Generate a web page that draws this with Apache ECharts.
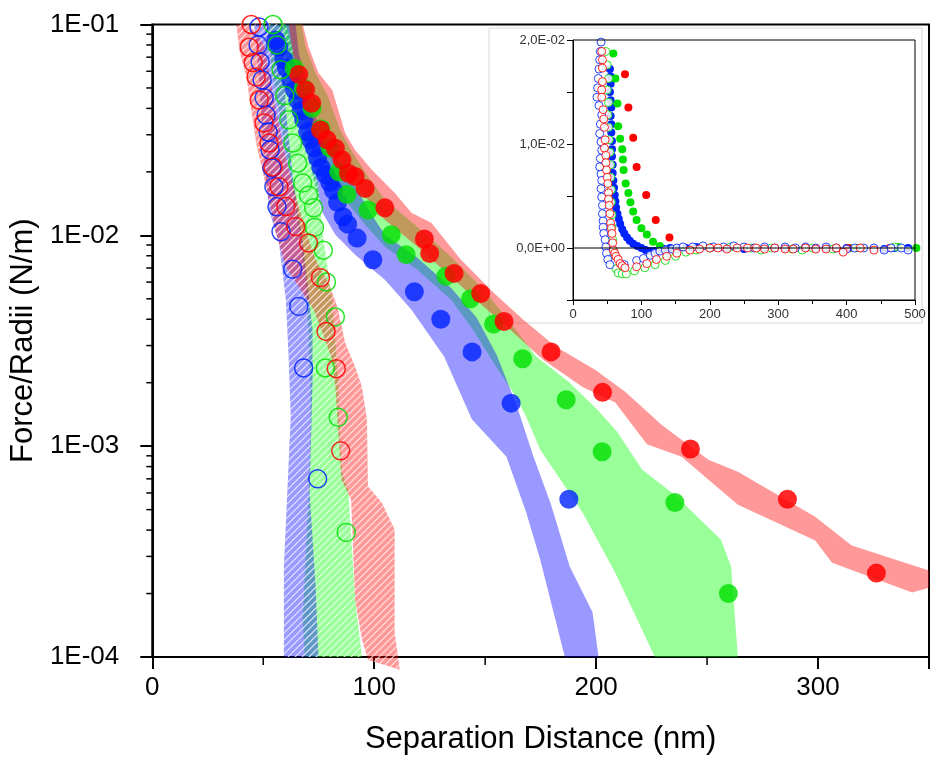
<!DOCTYPE html>
<html><head><meta charset="utf-8">
<script src="https://cdn.jsdelivr.net/npm/echarts@6/dist/echarts.min.js"></script>
<style>html,body{margin:0;padding:0;background:#fff}#c{width:932px;height:761px}</style>
</head><body><div id="c"></div>
<script>
// ---------- main plot: points (x nm, Force/Radii N/m) ----------
const redFilled = [[66,0.058],[69.1,0.049],[71.8,0.0423],[75.8,0.0316],[78.8,0.0284],[82.5,0.0259],[85.5,0.0228],[88.4,0.0197],[91.4,0.019],[95.9,0.0167],[104.8,0.0135],[122.6,0.0096],[125,0.0082],[136,0.0066],[148,0.0053],[158.5,0.0039],[179.7,0.0028],[202.9,0.0018],[242.5,0.00097],[286.2,0.00056],[326.3,0.00025]];
const greenFilled = [[64,0.062],[68,0.05],[72,0.04],[76,0.032],[80,0.026],[84,0.02],[87.7,0.0156],[97.3,0.0132],[107.7,0.01006],[114.4,0.0081],[132.3,0.0064],[143.4,0.0050],[153.8,0.0038],[166.9,0.0026],[186.5,0.00166],[202.7,0.00094],[235.5,0.00054],[259.6,0.0002]];
const blueFilled = [[55.7,0.0845],[57,0.078],[59.3,0.068],[60.5,0.062],[62.4,0.0546],[64,0.049],[65.5,0.0438],[67,0.039],[68.2,0.0353],[70,0.031],[71.3,0.0284],[73,0.026],[74.5,0.0233],[76,0.021],[78,0.0194],[80,0.0178],[81.6,0.0164],[83.5,0.0143],[86,0.01225],[88,0.0113],[92.3,0.0097],[99.4,0.00766],[118.1,0.0054],[130,0.0040],[144.1,0.0028],[161.7,0.0016],[187.7,0.00056]];
const redOpen = [[44.6,0.1],[43.7,0.078],[45.5,0.066],[46.8,0.0564],[48.2,0.0438],[50.4,0.0341],[52.6,0.0274],[54.4,0.0211],[57.1,0.017],[60.2,0.0137],[64.6,0.011],[70.4,0.0092],[75.8,0.0063],[78.3,0.0035],[82.9,0.00233],[84.9,0.00095]];
const greenOpen = [[54.4,0.1],[56.2,0.08],[58,0.061],[59.7,0.046],[61.5,0.0353],[63.3,0.0274],[65.5,0.022],[67.8,0.0177],[70.4,0.0155],[72.7,0.0135],[73.1,0.0109],[77.1,0.0085],[78.5,0.006],[82.5,0.0041],[78,0.00235],[83.8,0.00137],[87.4,0.00039]];
const blueOpen = [[48.1,0.0973],[47.7,0.080],[48.6,0.0664],[49.5,0.0546],[50.4,0.0449],[51.3,0.0372],[52.2,0.0309],[53.1,0.0254],[53.9,0.0209],[54.8,0.017],[56.2,0.01365],[58,0.0104],[63.3,0.0069],[66,0.0046],[68.2,0.00235],[74.5,0.0007]];

// ---------- main plot: shaded bands (outline vertices, x nm / N/m) ----------
const redBand = [[61.5,0.1],[67.8,0.1],[70.4,0.0782],[74.9,0.0589],[81.1,0.0489],[86.9,0.0306],[91.4,0.0254],[99.0,0.0204],[109.2,0.0159],[116.8,0.0128],[125.7,0.01146],[139.1,0.00766],[153.8,0.00534],[167.2,0.00398],[181.9,0.00296],[199.7,0.0023],[213.1,0.00181],[229.6,0.00126],[250.6,0.000863],[263.9,0.000757],[298.7,0.000463],[315.2,0.000338],[350,0.000257],
  [350,0.000213],[342.4,0.000202],[306.3,0.00028],[298.7,0.000357],[263.9,0.000528],[238.5,0.000892],[222.9,0.00102],[208.6,0.00161],[193.9,0.00191],[176.1,0.00257],[161.4,0.00356],[149.4,0.00458],[134.6,0.00636],[119.5,0.00882],[104.8,0.01184],[97.2,0.01473],[91.4,0.01698],[83.8,0.0211],[76.7,0.0263],[70.4,0.0353],[66.0,0.0506],[63.3,0.0733]];
const greenBand = [[61.5,0.1],[67.3,0.1],[69.1,0.0782],[73.6,0.0589],[78.9,0.0463],[84.7,0.0316],[90.1,0.0249],[96.7,0.0194],[104.8,0.01473],[119.5,0.01097],[134.6,0.00791],[149.4,0.00552],[161.4,0.00385],[173.0,0.00266],[188.1,0.002],[200.6,0.00149],[209.5,0.00117],[220.7,0.000774],[235.4,0.000589],[256.3,0.00036],[260.8,0.000269],[263.9,0.0001],
  [226.5,0.0001],[208.6,0.000251],[193.9,0.000484],[174.8,0.000962],[168.5,0.00138],[162.7,0.00179],[153.8,0.00249],[143.6,0.00368],[134.6,0.00495],[119.5,0.00686],[104.8,0.00882],[95.9,0.01122],[86.9,0.01473],[78.0,0.0204],[71.3,0.0284],[65.5,0.0438],[62.0,0.0679],[59.3,0.1]];
const blueBand = [[64.6,0.1],[66.0,0.0733],[69.1,0.0546],[72.7,0.0381],[76.7,0.0306],[81.1,0.0246],[86.9,0.0204],[92.3,0.01643],[98.1,0.01292],[104.8,0.01006],[119.5,0.00782],[134.6,0.00564],[146.2,0.00406],[155.2,0.00271],[164.1,0.00157],[171.6,0.000902],[179.7,0.000528],[188.1,0.000269],[198.4,0.000163],[201.1,0.0001],
  [185.9,0.0001],[174.8,0.00029],[168.5,0.000484],[159.6,0.000892],[144.0,0.00134],[131.5,0.00266],[116.8,0.00444],[104.8,0.00615],[91.4,0.00809],[82.5,0.01006],[76.7,0.0128],[73.6,0.01698],[70.4,0.0228],[67.8,0.0293],[63.3,0.0425],[61.1,0.0608],[58.9,0.0942],[58.0,0.1]];
const redHatch = [[43.7,0.1],[50.4,0.08],[54.8,0.0438],[59.3,0.0254],[63.8,0.01643],[69.1,0.01062],[73.6,0.00766],[79.4,0.00596],[83.4,0.00458],[86.9,0.00309],[91.4,0.00238],[94.5,0.00191],[96.7,0.00134],[97.2,0.000643],[103.4,0.00054],[109.2,0.000402],[109.2,0.000131],[111.5,0.000087],
  [97.2,0.000097],[94.5,0.000121],[91.4,0.000187],[89.6,0.000558],[85.2,0.000694],[82.5,0.00191],[81.1,0.00257],[76.7,0.00345],[72.7,0.00444],[67.8,0.00534],[60.2,0.0071],[55.7,0.01028],[52.6,0.01473],[46.8,0.0274],[44.6,0.0393],[42.4,0.0564],[39.2,0.0757],[37.9,0.1]];
const greenHatch = [[60.2,0.1],[63.3,0.0757],[64.6,0.0506],[67.8,0.0353],[72.2,0.0246],[74.9,0.01698],[76.7,0.01028],[78.9,0.0071],[81.1,0.00495],[82.5,0.0032],[83.8,0.002],[84.7,0.00107],[85.6,0.000749],[88.3,0.000622],[91.4,0.000187],[94.5,0.0001],
  [68.7,0.0001],[67.8,0.000151],[69.1,0.00029],[70.4,0.000558],[71.3,0.00116],[71.3,0.00166],[70.4,0.00345],[69.1,0.00615],[66.0,0.01062],[63.3,0.01643],[60.2,0.0254],[57.1,0.0393],[53.9,0.0608],[52.2,0.1]];
const blueHatch = [[58.9,0.1],[58.9,0.0817],[60.2,0.0393],[63.3,0.0189],[67.8,0.0092],[70.4,0.00534],[72.2,0.00356],[72.2,0.002],[70.9,0.000602],[73.6,0.000216],[74.9,0.0001],
  [59.3,0.0001],[59.3,0.000269],[61.1,0.000694],[62.4,0.00138],[61.5,0.00257],[60.2,0.00495],[57.1,0.0092],[52.6,0.0132],[49.9,0.0274],[48.1,0.0564],[45.9,0.1]];

// ---------- axes ----------
const yMinorTicks = [2e-4,3e-4,4e-4,5e-4,6e-4,7e-4,8e-4,9e-4,2e-3,3e-3,4e-3,5e-3,6e-3,7e-3,8e-3,9e-3,2e-2,3e-2,4e-2,5e-2,6e-2,7e-2,8e-2,9e-2];
const xMinorTicks = [50,150,250];
const yTickLabels = {'-4':'1E-04','-3':'1E-03','-2':'1E-02','-1':'1E-01'};
const insetYLabels = {'0':'0,0E+00','1':'1,0E-02','2':'2,0E-02'};

// ---------- inset (x nm / force) ----------
const insetRedFilled = [[76,0.0167],[81,0.0135],[88,0.0106],[93,0.0078],[107,0.0051],[121,0.0027],[141,0.0010],[403,0.0000],[463,0.0000]];
const insetGreenFilled = [[59,0.0187],[62,0.0163],[65,0.0139],[66,0.0117],[69,0.0105],[72,0.0095],[73,0.0085],[74,0.0075],[77,0.0062],[81,0.0053],[84,0.0044],[88,0.0035],[93,0.0027],[100,0.0019],[108,0.0013],[117,0.0006],[127,0.0002],[405,0.0000],[415,0.0000],[476,0.0001],[502,0.0000]];
const insetBlueFilled = [[54,0.0172],[55,0.0165],[55,0.0158],[54,0.0150],[55,0.0142],[56,0.0135],[55,0.0127],[56,0.0119],[56,0.0111],[57,0.0103],[57,0.0095],[57,0.0088],[58,0.0080],[58,0.0072],[59,0.0065],[60,0.0058],[61,0.0051],[62,0.0045],[63,0.0039],[65,0.0033],[67,0.0028],[69,0.0023],[72,0.0018],[75,0.0014],[79,0.0010],[83,0.0007],[88,0.0004],[94,0.0002],[100,0.0000],[106,-0.0002],[112,-0.0003],[118,-0.0003],[125,-0.0002],[133,-0.0001],[142,0.0000],[152,-0.0001],[165,0.0000],[180,0.0001],[200,0.0000],[225,0.0000],[250,-0.0001],[280,0.0000],[310,0.0000],[340,0.0000],[370,0.0000],[400,0.0000],[420,0.0000],[455,-0.0001],[470,0.0000],[490,0.0000]];
const insetRedOpen = [[42,0.0189],[43,0.0181],[43,0.0173],[43,0.0160],[42,0.0152],[42,0.0145],[44,0.0133],[45,0.0124],[46,0.0116],[47,0.0104],[46,0.0096],[48,0.0089],[48,0.0082],[49,0.0075],[50,0.0068],[51,0.0062],[52,0.0053],[52,0.0047],[53,0.0041],[54,0.0033],[55,0.0024],[56,0.0019],[57,0.0014],[58,0.0005],[59,-0.0002],[61,-0.0005],[63,-0.0008],[66,-0.0011],[69,-0.0015],[72,-0.0017],[76,-0.0019],[93,-0.0018],[108,-0.0015],[122,-0.0011],[137,-0.0008],[152,-0.0005],[171,-0.0002],[185,-0.0001],[200,0.0000],[212,0.0000],[225,-0.0001],[240,0.0000],[255,0.0000],[268,0.0000],[280,-0.0001],[295,0.0000],[310,-0.0001],[322,-0.0001],[340,0.0000],[355,-0.0001],[370,-0.0001],[385,0.0000],[395,-0.0004],[420,0.0000],[440,-0.0002]];
const insetGreenOpen = [[48,0.0189],[50,0.0176],[52,0.0163],[50,0.0152],[52,0.0140],[51,0.0128],[52,0.0116],[53,0.0104],[54,0.0092],[55,0.0080],[55,0.0068],[56,0.0056],[56,0.0044],[57,0.0032],[57,0.0020],[58,0.0008],[59,-0.0004],[61,-0.0013],[63,-0.0020],[66,-0.0024],[72,-0.0025],[78,-0.0025],[90,-0.0022],[105,-0.0019],[120,-0.0016],[135,-0.0012],[150,-0.0008],[165,-0.0004],[180,-0.0002],[200,0.0000],[230,0.0001],[260,0.0000],[275,-0.0002],[290,0.0000],[320,-0.0001],[335,-0.0002],[350,0.0000],[380,-0.0001],[470,0.0001]];
const insetBlueOpen = [[41,0.0198],[40,0.0189],[39,0.0181],[38,0.0172],[37,0.0163],[36,0.0154],[35,0.0145],[38,0.0137],[42,0.0128],[40,0.0119],[39,0.0110],[41,0.0102],[42,0.0094],[40,0.0086],[39,0.0078],[41,0.0071],[42,0.0065],[41,0.0057],[42,0.0049],[43,0.0041],[43,0.0033],[44,0.0026],[44,0.0020],[45,0.0014],[47,0.0008],[48,0.0001],[49,-0.0005],[51,-0.0011],[54,-0.0016],[75,-0.0016],[93,-0.0012],[103,-0.0010],[113,-0.0007],[120,-0.0005],[127,-0.0003],[135,-0.0002],[145,-0.0001],[152,0.0000],[161,0.0001],[175,0.0001],[190,0.0002],[205,0.0001],[220,0.0001],[235,0.0002],[250,0.0001],[265,0.0000],[280,0.0001],[295,0.0000],[310,0.0001],[325,0.0000],[340,0.0001],[355,0.0000],[370,0.0001],[385,0.0000],[400,-0.0001],[412,0.0000],[425,0.0000],[440,0.0000],[455,-0.0002],[465,0.0000],[480,0.0000],[490,-0.0002]];

const RED = '#ff0000', GREEN = '#00e000', BLUE = '#0022ff';
const FONT = 'Liberation Sans, Arial, sans-serif';

function makeHatch() {
  const c = document.createElement('canvas');
  c.width = 7; c.height = 7;
  const g = c.getContext('2d');
  g.strokeStyle = 'rgba(255,255,255,0.75)';
  g.lineWidth = 1.2;
  g.beginPath();
  g.moveTo(-1, 8); g.lineTo(8, -1);
  g.moveTo(-1, 1); g.lineTo(1, -1);
  g.moveTo(6, 8); g.lineTo(8, 6);
  g.stroke();
  return c;
}
const hatchImg = makeHatch();

function band(pts, color, hatched) {
  return {
    type: 'custom', xAxisIndex: 0, yAxisIndex: 0, silent: true, z: 1,
    data: pts,
    renderItem: function (params, api) {
      if (params.dataIndex !== 0) return null;
      const points = pts.map(p => api.coord(p));
      const children = [{ type: 'polygon', shape: { points: points }, style: { fill: color } }];
      if (hatched) children.push({ type: 'polygon', shape: { points: points }, style: { fill: { type: 'pattern', image: hatchImg, repeat: 'repeat' } } });
      return { type: 'group', children: children };
    }
  };
}
function filled(data, color, size, xi, op) {
  return { type: 'scatter', xAxisIndex: xi, yAxisIndex: xi, data: data, symbol: 'circle', symbolSize: size, clip: false, z: 3,
    itemStyle: { color: color, opacity: op } };
}
function open(data, color, size, xi, fill, bw) {
  return { type: 'scatter', xAxisIndex: xi, yAxisIndex: xi, data: data, symbol: 'circle', symbolSize: size, clip: false, z: 4,
    itemStyle: { color: fill, borderColor: color, borderWidth: bw, opacity: 0.85 } };
}

const chart = echarts.init(document.getElementById('c'), null, { renderer: 'canvas' });
chart.setOption({
  animation: false,
  backgroundColor: '#fff',
  textStyle: { fontFamily: FONT },
  grid: [
    { left: 145, top: 24.5, width: 785, height: 632.5, show: true, borderColor: '#000', borderWidth: 2, backgroundColor: 'transparent' },
    { left: 573, top: 40, width: 342, height: 260, show: true, borderColor: '#000', borderWidth: 1, backgroundColor: 'transparent', z: 5 }
  ],
  xAxis: [
    { gridIndex: 0, type: 'value', min: 0, max: 350, interval: 100,
      axisLine: { onZero: false, lineStyle: { color: '#000', width: 2 } },
      axisTick: { length: 12, lineStyle: { color: '#000', width: 2 } },
      axisLabel: { fontSize: 26, color: '#000', margin: 18, fontFamily: FONT, formatter: v => (v % 100 === 0 ? String(v) : '') },
      splitLine: { show: false },
      name: 'Separation Distance (nm)', nameLocation: 'middle', nameGap: 67,
      nameTextStyle: { fontSize: 31, color: '#000', fontFamily: FONT } },
    { gridIndex: 1, type: 'value', min: 0, max: 500, interval: 100,
      axisLine: { onZero: false, lineStyle: { color: '#000', width: 1 } },
      axisTick: { length: 5, lineStyle: { color: '#000' } },
      minorTick: { show: true, splitNumber: 2, length: 4, lineStyle: { color: '#000' } },
      axisLabel: { fontSize: 13, color: '#333', margin: 8, fontFamily: FONT },
      splitLine: { show: false } }
  ],
  yAxis: [
    { gridIndex: 0, type: 'log', logBase: 10, min: 1e-4, max: 1e-1,
      axisLine: { onZero: false, lineStyle: { color: '#000', width: 2 } },
      axisTick: { length: 12, lineStyle: { color: '#000', width: 2 } },
      axisLabel: { fontSize: 26, color: '#000', margin: 33, fontFamily: FONT,
        formatter: v => yTickLabels[String(Math.round(Math.log10(v)))] || '' },
      splitLine: { show: false },
      name: 'Force/Radii (N/m)', nameLocation: 'middle', nameGap: 92, nameRotate: 90,
      nameTextStyle: { fontSize: 31, color: '#000', fontFamily: FONT } },
    { gridIndex: 1, type: 'value', min: -0.005, max: 0.02, interval: 0.005,
      axisLine: { onZero: false, lineStyle: { color: '#000', width: 1 } },
      axisTick: { length: 6, lineStyle: { color: '#000' } },
      axisLabel: { fontSize: 13, color: '#333', margin: 8, fontFamily: FONT,
        formatter: v => { const k = v / 0.01; return Math.abs(k - Math.round(k)) < 1e-6 && k > -0.5 ? insetYLabels[String(Math.round(k))] : ''; } },
      splitLine: { show: false } }
  ],
  graphic: [
    { type: 'rect', shape: { x: 489, y: 28, width: 433, height: 295 }, style: { fill: 'none', stroke: '#d8d8d8', lineWidth: 1 }, z: 0, silent: true }
  ],
  series: [
    band(greenBand, 'rgba(0,255,0,0.4)', false),
    band(blueBand, 'rgba(0,0,255,0.4)', false),
    band(redBand, 'rgba(255,0,0,0.4)', false),
    band(greenHatch, 'rgba(0,255,0,0.4)', true),
    band(blueHatch, 'rgba(0,0,255,0.4)', true),
    band(redHatch, 'rgba(255,0,0,0.4)', true),
    { type: 'custom', xAxisIndex: 0, yAxisIndex: 0, silent: true, z: 2,
      data: yMinorTicks.map(v => [0, v]),
      renderItem: (params, api) => { const p = api.coord([api.value(0), api.value(1)]);
        return { type: 'line', shape: { x1: p[0] - 6, y1: p[1], x2: p[0], y2: p[1] }, style: { stroke: '#000', lineWidth: 1.5 } }; } },
    { type: 'custom', xAxisIndex: 0, yAxisIndex: 0, silent: true, z: 2,
      data: xMinorTicks.map(v => [v, 1e-4]),
      renderItem: (params, api) => { const p = api.coord([api.value(0), api.value(1)]);
        return { type: 'line', shape: { x1: p[0], y1: p[1], x2: p[0], y2: p[1] + 8 }, style: { stroke: '#000', lineWidth: 1.5 } }; } },
    filled(blueFilled, BLUE, 19, 0, 0.8),
    filled(greenFilled, GREEN, 19, 0, 0.8),
    filled(redFilled, RED, 19, 0, 0.85),
    open(blueOpen, BLUE, 18, 0, 'rgba(0,0,0,0)', 1.5),
    open(greenOpen, GREEN, 18, 0, 'rgba(0,0,0,0)', 1.5),
    open(redOpen, RED, 18, 0, 'rgba(0,0,0,0)', 1.5),
    { type: 'line', xAxisIndex: 1, yAxisIndex: 1, data: [[0, 0], [500, 0]], symbol: 'none', silent: true, z: 5,
      lineStyle: { color: '#000', width: 1 } },
    filled(insetBlueFilled, BLUE, 8, 1, 1),
    filled(insetGreenFilled, GREEN, 8, 1, 1),
    filled(insetRedFilled, RED, 8, 1, 1),
    open(insetGreenOpen, GREEN, 8, 1, '#fff', 1),
    open(insetBlueOpen, BLUE, 8, 1, '#fff', 1),
    open(insetRedOpen, RED, 8, 1, '#fff', 1)
  ]
});
</script>
</body></html>
